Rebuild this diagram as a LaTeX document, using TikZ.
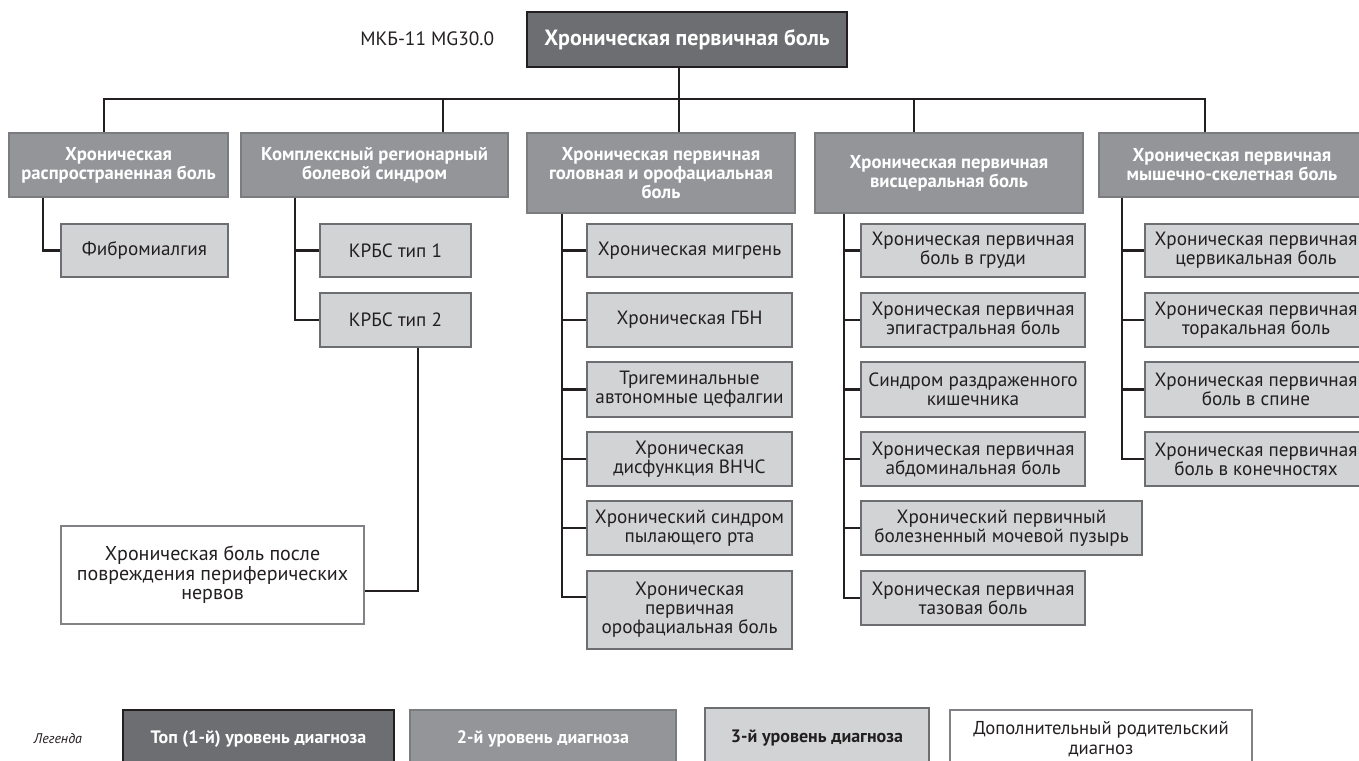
\documentclass[tikz,border=0pt]{standalone}
\usepackage{fontspec}
\setmainfont{PT Sans}
\definecolor{c1}{HTML}{6D6E71}
\definecolor{cb}{HTML}{231F20}
\definecolor{c2}{HTML}{939598}
\definecolor{c2b}{HTML}{7B7C7F}
\definecolor{c3}{HTML}{D1D3D4}
\definecolor{c3b}{HTML}{6D6E71}
\definecolor{c4b}{HTML}{808285}
\begin{document}
\begin{tikzpicture}[x=0.75pt,y=-0.75pt,
 every node/.style={inner sep=2pt, align=center, font=\fontsize{14.4}{14.25}\selectfont},
 dim/.style 2 args={minimum width=#1*0.75pt, minimum height=#2*0.75pt},
 lvlone/.style={fill=c1, draw=cb, line width=1.9pt, text=white, font=\bfseries\fontsize{16.5}{18}\selectfont},
 lvltwo/.style={fill=c2, draw=c2b, line width=1.5pt, text=white, font=\bfseries\fontsize{14}{14.25}\selectfont},
 lvlthree/.style={fill=c3, draw=c3b, line width=1.5pt, text=cb},
 extra/.style={fill=white, draw=c4b, line width=1.5pt, text=cb},
 conn/.style={draw=cb, line width=2pt},
 legfont/.style={font=\bfseries\fontsize{13.5}{15}\selectfont}
]
\path[use as bounding box, clip] (0,0) rectangle (1359,760);

% level 1
\node[lvlone, dim={320}{55}] (top) at (687,39.5) {Хроническая первичная боль};
\node[anchor=east, text=cb, font=\fontsize{14.5}{16}\selectfont] (icd) at (497,39) {МКБ-11 MG30.0};

% level 2
\node[lvltwo, dim={219}{64}] (a) at (118.5,165) {Хроническая\\распространенная боль};
\node[lvltwo, dim={267}{64}] (b) at (374.5,165) {Комплексный регионарный\\болевой синдром};
\node[lvltwo, dim={268}{80}] (c) at (661,173) {Хроническая первичная\\головная и орофациальная\\боль};
\node[lvltwo, dim={268}{80}] (d) at (949,173) {Хроническая первичная\\висцеральная боль};
\node[lvltwo, dim={266}{64}] (e) at (1232,165) {Хроническая первичная\\мышечно-скелетная боль};

% bus
\coordinate (d1) at (104,99);
\coordinate (d2) at (443,99);
\coordinate (d3) at (679,99);
\coordinate (d4) at (914,99);
\coordinate (d5) at (1205,99);
\draw[conn] (a.north -| d1) -- (d1) -- (d5) -- (e.north -| d5);
\draw[conn] (top.south -| d3) -- (c.north -| d3);
\draw[conn] (d2) -- (b.north -| d2);
\draw[conn] (d4) -- (d.north -| d4);

% column 1
\node[lvlthree, dim={167}{53}] (fib) at (144.5,250.5) {Фибромиалгия};
\coordinate (t1) at (43,0);
\draw[conn] (a.south -| t1) |- (fib.west);

% column 2
\node[lvlthree, dim={151}{53}] (k1) at (395.5,250.5) {КРБС тип 1};
\node[lvlthree, dim={151}{54}] (k2) at (395.5,320) {КРБС тип 2};
\node[extra, dim={303}{98}, font=\fontsize{15}{14.5}\selectfont] (wb) at (212.5,575) {Хроническая боль после\\повреждения периферических\\нервов};
\coordinate (t2) at (295,0);
\coordinate (t2b) at (418,0);
\draw[conn] (b.south -| t2) |- (k2.west);
\draw[conn] (k1.west) -- (k1.west -| t2);
\draw[conn] (k2.south -| t2b) |- ([yshift=-12pt]wb.east);

% column 3
\node[lvlthree, dim={205}{53}] (m1) at (689.5,250.5) {Хроническая мигрень};
\node[lvlthree, dim={205}{54}] (m2) at (689.5,320) {Хроническая ГБН};
\node[lvlthree, dim={205}{55}] (m3) at (689.5,389.5) {Тригеминальные\\автономные цефалгии};
\node[lvlthree, dim={205}{54}] (m4) at (689.5,459) {Хроническая\\дисфункция ВНЧС};
\node[lvlthree, dim={205}{54}] (m5) at (689.5,528) {Хронический синдром\\пылающего рта};
\node[lvlthree, dim={205}{78}] (m6) at (689.5,610) {Хроническая\\первичная\\орофациальная боль};
\coordinate (t3) at (562,0);
\draw[conn] (c.south -| t3) |- ([yshift=9.75pt]m6.west);
\foreach \n in {m1,m2,m3,m4,m5} \draw[conn] (\n.west) -- (\n.west -| t3);

% column 4
\node[lvlthree, dim={224}{53}] (v1) at (973,250.5) {Хроническая первичная\\боль в груди};
\node[lvlthree, dim={224}{54}] (v2) at (973,320) {Хроническая первичная\\эпигастральная боль};
\node[lvlthree, dim={224}{55}] (v3) at (973,389.5) {Синдром раздраженного\\кишечника};
\node[lvlthree, dim={224}{54}] (v4) at (973,459) {Хроническая первичная\\абдоминальная боль};
\node[lvlthree, dim={281}{54}] (v5) at (1001.5,528) {Хронический первичный\\болезненный мочевой пузырь};
\node[lvlthree, dim={224}{54}] (v6) at (973,598) {Хроническая первичная\\тазовая боль};
\coordinate (t4) at (844,0);
\draw[conn] (d.south -| t4) |- (v6.west);
\foreach \n in {v1,v2,v3,v4,v5} \draw[conn] (\n.west) -- (\n.west -| t4);

% column 5
\node[lvlthree, dim={222}{53}] (s1) at (1256,250.5) {Хроническая первичная\\цервикальная боль};
\node[lvlthree, dim={222}{54}] (s2) at (1256,320) {Хроническая первичная\\торакальная боль};
\node[lvlthree, dim={222}{55}] (s3) at (1256,389.5) {Хроническая первичная\\боль в спине};
\node[lvlthree, dim={222}{54}] (s4) at (1256,459) {Хроническая первичная\\боль в конечностях};
\coordinate (t5) at (1122,0);
\draw[conn] (e.south -| t5) |- (s4.west);
\foreach \n in {s1,s2,s3} \draw[conn] (\n.west) -- (\n.west -| t5);

% legend
\node[text=cb, font=\itshape\fontsize{10.5}{13}\selectfont] (leg) at (58,739) {Легенда};
\node[lvlone, legfont, dim={271}{58}] (g1) at (258.5,739) {Топ (1-й) уровень диагноза};
\node[lvltwo, legfont, dim={266}{58}] (g2) at (543,739) {2-й уровень диагноза};
\node[lvlthree, legfont, dim={224}{60}] (g3) at (817,738) {3-й уровень диагноза};
\node[extra, dim={302}{58}, font=\fontsize{14}{15}\selectfont] (g4) at (1101,739) {Дополнительный родительский\\диагноз};
\end{tikzpicture}
\end{document}
